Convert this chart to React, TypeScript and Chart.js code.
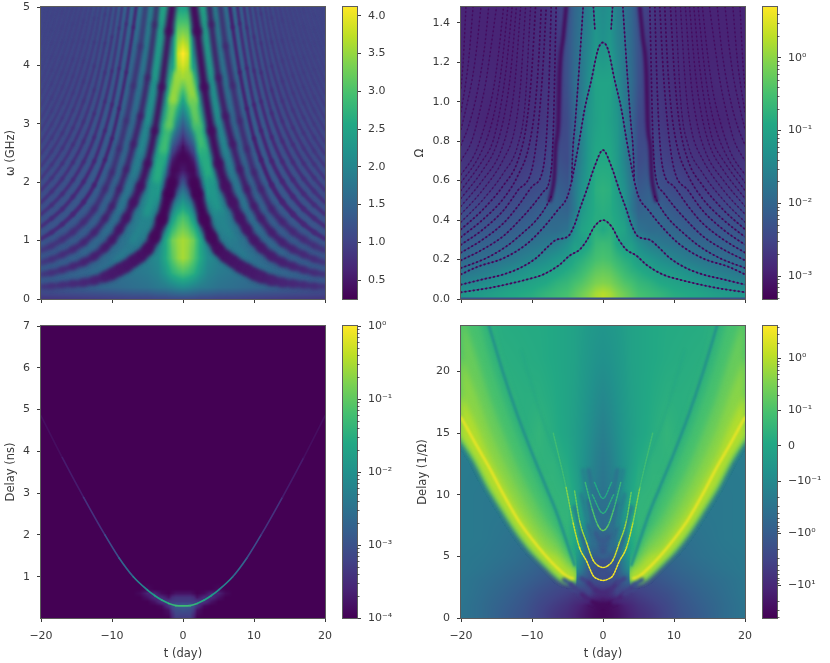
import React, { useEffect, useRef } from 'react';
import { Chart, registerables } from 'chart.js';

// ---------- shared tick data ----------
const T_TICKS = [-20, -10, 0, 10, 20];
const T_LABELS = ['\u221220', '\u221210', '0', '10', '20'];
const P1_Y_TICKS = [0, 1, 2, 3, 4, 5];
const P2_Y_TICKS = [0, 0.2, 0.4, 0.6, 0.8, 1.0, 1.2, 1.4];
const P2_Y_LABELS = ['0.0', '0.2', '0.4', '0.6', '0.8', '1.0', '1.2', '1.4'];
const P3_Y_TICKS = [1, 2, 3, 4, 5, 6, 7];
const P4_Y_TICKS = [0, 5, 10, 15, 20];
const CB1_TICKS = [0.5, 1, 1.5, 2, 2.5, 3, 3.5, 4];
const CB1_LABELS = ['0.5', '1.0', '1.5', '2.0', '2.5', '3.0', '3.5', '4.0'];
const CB2_TICKS = [1e-3, 1e-2, 1e-1, 1];
const CB2_LABELS = ['10\u207B\u00B3', '10\u207B\u00B2', '10\u207B\u00B9', '10\u2070'];
const CB2_MINOR = [5e-4, 6e-4, 7e-4, 8e-4, 9e-4, 2e-3, 3e-3, 4e-3, 5e-3, 6e-3, 7e-3, 8e-3, 9e-3, 2e-2, 3e-2, 4e-2, 5e-2, 6e-2, 7e-2, 8e-2, 9e-2, 0.2, 0.3, 0.4, 0.5, 0.6, 0.7, 0.8, 0.9, 2, 3, 4];
const CB3_TICKS = [1e-4, 1e-3, 1e-2, 1e-1, 1];
const CB3_LABELS = ['10\u207B\u2074', '10\u207B\u00B3', '10\u207B\u00B2', '10\u207B\u00B9', '10\u2070'];
const CB3_MINOR = [2e-4, 3e-4, 4e-4, 5e-4, 6e-4, 7e-4, 8e-4, 9e-4, 2e-3, 3e-3, 4e-3, 5e-3, 6e-3, 7e-3, 8e-3, 9e-3, 2e-2, 3e-2, 4e-2, 5e-2, 6e-2, 7e-2, 8e-2, 9e-2, 0.2, 0.3, 0.4, 0.5, 0.6, 0.7, 0.8, 0.9];
const CB4_TICKS = [-2.68, -1.68, -0.68, 0, 0.68, 1.68];
const CB4_LABELS = ['\u221210\u00B9', '\u221210\u2070', '\u221210\u207B\u00B9', '0', '10\u207B\u00B9', '10\u2070'];
const CB4_MINOR = [0.98, 1.16, 1.28, 1.38, 1.46, 1.53, 1.58, 1.63, 1.98, 2.16, 2.28, -0.98, -1.16, -1.28, -1.38, -1.46, -1.53, -1.58, -1.63, -1.98, -2.16, -2.28, -2.38, -2.46, -2.53, -2.58, -2.63, -2.98, -3.16, -3.28];

// ---------- panel 1: |spectrum| (crest levels and dark fringes, left half; the picture is mirror-symmetric) ----------
const P1_COLS = [-20, -14, -10, -7, -5, -3.5, -2.5, -1.5, -0.7, 0];
const P1_ROWS = [5, 4.6, 4.2, 3.8, 3.4, 3, 2.6, 2.2, 1.8, 1.4, 1, 0.7, 0.45, 0.2, 0];
const P1_CREST = [
  [1.08, 1.12, 1.3, 1.55, 1.9, 2.2, 2.55, 2.6, 2.5, 2.4],
  [1.08, 1.12, 1.3, 1.55, 1.9, 2.2, 2.5, 2.3, 3.2, 3.3],
  [1.08, 1.14, 1.3, 1.55, 1.9, 2.2, 2.4, 2.2, 3.8, 4.15],
  [1.08, 1.14, 1.32, 1.6, 1.9, 2.2, 2.3, 2.6, 3.5, 3.6],
  [1.08, 1.16, 1.35, 1.6, 1.9, 2.2, 2.3, 3.3, 2.9, 2.5],
  [1.1, 1.2, 1.4, 1.6, 1.9, 2.2, 2.5, 2.4, 1.9, 1.4],
  [1.1, 1.2, 1.4, 1.65, 1.9, 2.3, 2.8, 1.3, 0.8, 0.4],
  [1.15, 1.25, 1.45, 1.7, 2.0, 2.5, 2.0, 0.5, 0.5, 0.6],
  [1.15, 1.3, 1.5, 1.75, 2.0, 2.3, 1.5, 1.4, 1.6, 1.9],
  [1.2, 1.35, 1.55, 1.8, 2.0, 1.9, 1.7, 2.3, 2.8, 3.0],
  [1.25, 1.4, 1.6, 1.8, 1.9, 1.9, 2.5, 3.25, 3.5, 3.6],
  [1.3, 1.45, 1.65, 1.75, 1.9, 2.1, 2.55, 3.1, 3.45, 3.6],
  [1.35, 1.5, 1.6, 1.75, 1.85, 2.0, 2.3, 2.7, 2.9, 3.0],
  [1.3, 1.45, 1.55, 1.65, 1.7, 1.8, 1.85, 1.95, 2.05, 2.1],
  [0.85, 0.9, 0.95, 1, 1, 1.05, 1.05, 1.1, 1.1, 1.1],
];
const P1_TROUGH_ROWS = [5, 3.5, 2, 1, 0.4, 0];
const P1_TROUGH = [
  [0.98, 0.9, 0.75, 0.6, 0.5, 0.42, 0.38, 0.34, 0.32, 0.32],
  [0.92, 0.78, 0.62, 0.52, 0.42, 0.38, 0.34, 0.3, 0.3, 0.3],
  [0.82, 0.65, 0.52, 0.45, 0.38, 0.32, 0.3, 0.28, 0.28, 0.28],
  [0.72, 0.58, 0.48, 0.42, 0.36, 0.32, 0.3, 0.3, 0.3, 0.3],
  [0.68, 0.58, 0.52, 0.48, 0.5, 0.55, 0.6, 0.7, 0.8, 0.9],
  [0.75, 0.75, 0.8, 0.9, 1, 1, 1, 1, 1, 1],
];
const P1_ARC_T = [-20, -18.5, -17, -15.5, -14, -12.5, -11, -10, -9, -8, -7, -6, -5, -4, -3, -2, -1.5];
const P1_DARK_ARCS = [
  [0.21, 0.22, 0.24, 0.26, 0.28, 0.32, 0.38, 0.43, 0.5, 0.56, 0.65, 0.73, 0.85, 1.06, 1.36, 1.8, 2.0],
  [0.42, 0.45, 0.5, 0.56, 0.63, 0.73, 0.88, 1.01, 1.19, 1.39, 1.65, 1.93, 2.32, 2.88, 3.63, 4.58, 5.03],
  [0.62, 0.68, 0.76, 0.85, 0.97, 1.14, 1.38, 1.59, 1.88, 2.22, 2.65, 3.13, 3.79, 4.7, 5.9],
  [0.83, 0.91, 1.02, 1.15, 1.32, 1.54, 1.88, 2.17, 2.57, 3.05, 3.65, 4.33, 5.26],
  [1.03, 1.14, 1.28, 1.45, 1.66, 1.95, 2.38, 2.75, 3.26, 3.88, 4.65, 5.53],
  [1.24, 1.38, 1.54, 1.75, 2.01, 2.36, 2.88, 3.33, 3.95, 4.71, 5.65],
  [1.45, 1.61, 1.8, 2.04, 2.35, 2.77, 3.38, 3.91, 4.64, 5.54],
  [1.65, 1.84, 2.06, 2.34, 2.7, 3.18, 3.88, 4.49, 5.33],
  [1.86, 2.07, 2.32, 2.64, 3.04, 3.58, 4.38, 5.07],
  [2.06, 2.3, 2.58, 2.93, 3.39, 3.99, 4.88, 5.65],
  [2.27, 2.53, 2.84, 3.23, 3.73, 4.4, 5.38],
  [2.48, 2.76, 3.1, 3.53, 4.08, 4.81, 5.88],
  [2.68, 2.99, 3.36, 3.82, 4.42, 5.22],
  [2.89, 3.22, 3.62, 4.12, 4.77, 5.62],
  [3.09, 3.45, 3.88, 4.42, 5.11],
  [3.3, 3.69, 4.14, 4.72, 5.46],
  [3.51, 3.92, 4.4, 5.01],
  [3.71, 4.15, 4.66, 5.31],
  [3.92, 4.38, 4.92, 5.61],
  [4.12, 4.61, 5.18],
  [4.33, 4.84, 5.44],
  [4.54, 5.07],
  [4.74, 5.3],
  [4.95, 5.53],
];
const P1_DARK_CROWN = [[-1.7, 1.95], [-1.2, 2.2], [-0.7, 2.38], [0, 2.48]];
const P1_BRIGHT_ARM_1 = [[-12.6, 0.39, 1.6], [-9.3, 0.67, 1.75], [-7, 1.0, 1.9], [-5.1, 1.47, 2.1], [-3.7, 2.05, 2.5], [-2.8, 2.55, 2.8], [-2, 2.96, 3.05], [-1.4, 3.4, 3.4], [-0.8, 3.85, 3.7]];
const P1_BRIGHT_ARM_2 = [[-14, 0.8, 1.5], [-11, 1.13, 1.6], [-9, 1.53, 1.7], [-7, 2.15, 1.85], [-6, 2.53, 2], [-5, 3.05, 2.15], [-4, 3.79, 2.35], [-3, 4.76, 2.5], [-2.8, 5.1, 2.55]];

// ---------- panel 2: log10 of the amplitude and the dark nodal lines ----------
const P2_COLS = [-20, -16, -13, -10, -8, -6.5, -5, -4, -3, -2, -1, 0];
const P2_ROWS = [1.48, 1.3, 1.1, 0.9, 0.7, 0.55, 0.45, 0.35, 0.28, 0.2, 0.14, 0.08, 0.03, 0];
const P2_LOG = [
  [-2.9, -2.9, -2.9, -2.85, -2.75, -2.6, -2.4, -2.0, -1.8, -1.6, -1.3, -1.4],
  [-2.9, -2.9, -2.9, -2.8, -2.75, -2.7, -2.3, -1.95, -1.7, -1.5, -1.2, -1.3],
  [-2.85, -2.85, -2.9, -2.8, -2.7, -2.7, -2.3, -1.9, -1.7, -1.35, -1.0, -1.0],
  [-2.8, -2.9, -2.85, -2.75, -2.65, -2.6, -2.4, -2.0, -1.6, -1.2, -1.05, -0.95],
  [-2.7, -2.75, -2.7, -2.6, -2.5, -2.3, -2.4, -1.9, -1.5, -1.15, -0.9, -0.9],
  [-2.6, -2.6, -2.55, -2.4, -2.3, -2.1, -2.2, -1.7, -1.3, -1.1, -0.8, -0.75],
  [-2.4, -2.4, -2.35, -2.2, -2.05, -2, -2.05, -1.7, -1.2, -1, -0.85, -0.8],
  [-2.3, -2.2, -2.15, -2.0, -1.9, -1.9, -1.8, -1.35, -1.0, -0.9, -0.8, -0.9],
  [-2.15, -2.05, -1.95, -1.8, -1.7, -1.6, -1.35, -1.1, -1.1, -0.95, -0.65, -0.6],
  [-1.95, -1.85, -1.7, -1.5, -1.35, -1.2, -1.1, -0.9, -0.8, -0.65, -0.5, -0.45],
  [-1.8, -1.6, -1.4, -1.2, -1.1, -1.0, -0.85, -0.75, -0.6, -0.45, -0.3, -0.25],
  [-1.5, -1.35, -1.15, -1.0, -0.9, -0.75, -0.65, -0.5, -0.4, -0.25, -0.1, -0.05],
  [-1.25, -1.1, -0.95, -0.85, -0.7, -0.6, -0.5, -0.35, -0.2, -0.05, 0.15, 0.25],
  [-1.2, -1.05, -0.9, -0.8, -0.65, -0.55, -0.45, -0.3, -0.15, 0, 0.2, 0.3],
];
const P2_BOTTOM_EDGE = [[-20, 0], [0, 0], [20, 0]];
const P2_NODE_A = [[-20, 0.034], [-16, 0.056], [-13.1, 0.078], [-10.8, 0.098], [-8.45, 0.124], [-6.1, 0.174], [-4.7, 0.22], [-3.3, 0.25], [-2.35, 0.293], [-1.17, 0.369], [0, 0.4]];
const P2_NODE_B = [[-20, 0.073], [-16.9, 0.1], [-14.1, 0.124], [-11.7, 0.157], [-9.4, 0.208], [-7.7, 0.267], [-6.6, 0.3], [-4.9, 0.318], [-4, 0.377], [-3.3, 0.453], [-2.35, 0.547], [-1.17, 0.673], [0, 0.755]];
const P2_NODE_C = [[-20, 0.125], [-17.7, 0.163], [-14, 0.207], [-10.7, 0.28], [-8.3, 0.366], [-6.4, 0.45], [-5, 0.52], [-4.4, 0.6], [-4, 0.673], [-3.3, 0.81], [-2.6, 0.96], [-1.64, 1.11], [-0.7, 1.265], [0, 1.3]];
const P2_BRANCHES = [
  [[-4.4, 0.6], [-4.3, 0.72], [-3.9, 0.9], [-3.4, 1.15], [-2.8, 1.48]],
  [[-1.35, 1.48], [-1.15, 1.37]],
  [[-20, 0.157], [-16.4, 0.208], [-13.6, 0.267], [-11.3, 0.335], [-9.4, 0.4], [-8, 0.47], [-7.3, 0.52]],
  [[-20, 0.196], [-17, 0.25], [-14, 0.32], [-12, 0.39], [-10, 0.47], [-8.5, 0.54], [-7.3, 0.65], [-7, 0.85], [-6.8, 1.15], [-6.6, 1.48]],
  [[-20, 0.235], [-17, 0.3], [-14, 0.385], [-12, 0.47], [-10, 0.57], [-8.5, 0.65], [-8, 0.8], [-7.6, 1.1], [-7.3, 1.48]],
  [[-20, 0.275], [-17, 0.35], [-14, 0.45], [-12, 0.55], [-10, 0.66], [-9.2, 0.85], [-8.5, 1.15], [-8, 1.48]],
  [[-20, 0.314], [-17, 0.4], [-14, 0.51], [-12, 0.625], [-10.4, 0.78], [-9.5, 1.0], [-9, 1.25], [-8.7, 1.48]],
  [[-20, 0.353], [-17, 0.45], [-14, 0.577], [-12, 0.7], [-10.8, 0.88], [-10.1, 1.12], [-9.5, 1.48]],
];
const P2_FAINT_ARCS = [
  [[-20, 0.39], [-17, 0.5], [-14, 0.64], [-12, 0.78], [-11, 0.98], [-10.2, 1.48]],
  [[-20, 0.43], [-17, 0.55], [-14, 0.71], [-12.5, 0.85], [-11.7, 1.05], [-10.9, 1.48]],
  [[-20, 0.47], [-17, 0.6], [-14.5, 0.74], [-13.2, 0.9], [-12.4, 1.1], [-11.6, 1.48]],
  [[-20, 0.51], [-17, 0.65], [-15, 0.78], [-13.8, 0.95], [-13, 1.15], [-12.2, 1.48]],
  [[-20, 0.55], [-17, 0.7], [-15.5, 0.8], [-14.4, 0.98], [-13.6, 1.18], [-12.8, 1.48]],
  [[-20, 0.59], [-17.5, 0.72], [-16, 0.85], [-15, 1.0], [-14.2, 1.2], [-13.4, 1.48]],
  [[-20, 0.63], [-18, 0.74], [-16.5, 0.9], [-15.5, 1.05], [-14.8, 1.22], [-14, 1.48]],
  [[-20, 0.7], [-18.5, 0.8], [-17.5, 0.93], [-16.5, 1.1], [-15.8, 1.27], [-15, 1.48]],
  [[-20, 0.78], [-19, 0.87], [-18, 1.0], [-17.2, 1.15], [-16.6, 1.3], [-16.1, 1.48]],
  [[-20, 0.86], [-19.2, 0.98], [-18.4, 1.12], [-17.8, 1.27], [-17.2, 1.48]],
  [[-20, 0.95], [-19.4, 1.08], [-18.9, 1.22], [-18.3, 1.48]],
  [[-20, 1.07], [-19.7, 1.2], [-19.3, 1.48]],
];
const P2_STREAK = [[-7.5, 0.5], [-7.1, 0.56], [-6.85, 0.63], [-6.7, 0.76], [-6.3, 0.89], [-6.1, 1.15], [-5.6, 1.33], [-5.2, 1.48]];

// ---------- panel 3: log10 of the delay-time power ----------
const P3_COLS = [-7, -6, -5, -4, -3, -2, -1.5, -1, 0];
const P3_ROWS = [0.85, 0.7, 0.6, 0.5, 0.4, 0.3, 0.2, 0.1, 0.012];
const P3_LOG = [
  [-4, -4, -4, -4, -4, -4, -4, -4, -4],
  [-4, -4, -3.9, -4, -4, -4, -4, -4, -4],
  [-4, -3.9, -3.6, -3.6, -3.9, -4, -3.9, -3.8, -3.8],
  [-4, -4, -3.8, -3.5, -3.5, -3.8, -3.5, -3.4, -3.4],
  [-4, -4, -4, -3.8, -3.4, -3.3, -3.3, -3.3, -3.3],
  [-4, -4, -4, -4, -3.9, -3.4, -3.1, -2.9, -2.8],
  [-4, -4, -4, -4, -4, -3.8, -3.3, -3.1, -3.0],
  [-4, -4, -4, -4, -4, -3.9, -3.5, -3.2, -3.2],
  [-4, -4, -4, -4, -4, -4, -3.6, -3.3, -3.3],
];
const P3_RIDGE = [[-20, 4.85, -3.9], [-17, 3.85, -3.8], [-14, 2.9, -3.6], [-11, 2.0, -3.25], [-9, 1.45, -2.9], [-7, 1.0, -2.5], [-5, 0.68, -2.0], [-4, 0.55, -1.8], [-3, 0.44, -1.6], [-2, 0.36, -1.45], [-1, 0.31, -1.3], [0, 0.3, -1.25]];

// ---------- panel 4: symlog level (in decades along the colour bar) ----------
const P4_COLS = [-20, -17, -14, -11, -9, -7, -5, -4, -3, -2, -1, 0];
const P4_ROWS = [23.7, 21, 18, 15, 12.5, 10, 8, 6.5, 5, 4, 3, 2, 1, 0.3];
const P4_LEVEL = [
  [0.35, 0.3, 0.15, 0.12, 0.1, 0.05, -0.05, -0.1, -0.2, -0.3, -0.35, -0.4],
  [0.35, 0.3, 0.2, 0.15, 0.12, 0.05, -0.05, -0.1, -0.25, -0.35, -0.45, -0.5],
  [0.35, 0.3, 0.25, 0.2, 0.2, 0.1, -0.05, -0.15, -0.3, -0.45, -0.6, -0.7],
  [-1.0, 0.3, 0.3, 0.2, 0.35, 0.15, -0.05, -0.2, -0.35, -0.55, -0.75, -0.9],
  [-1.0, -1.0, 0.5, 0.4, 0.3, 0.3, 0.1, -0.15, -0.4, -0.65, -0.9, -1.05],
  [-1.0, -1.05, -1.05, 0.4, 0.35, 0.35, 0.3, 0.0, -0.35, -0.7, -1.0, -1.2],
  [-1.0, -1.05, -1.1, -1.15, 0.4, 0.4, 0.35, 0.1, -0.25, -0.8, -1.1, -1.3],
  [-1.0, -1.05, -1.15, -1.25, 0.3, 0.4, 0.3, 0.1, -0.4, -0.9, -1.3, -1.6],
  [-1.05, -1.1, -1.2, -1.35, -1.45, 0.3, 0.3, -0.1, -0.7, -1.3, -1.7, -1.9],
  [-1.05, -1.15, -1.3, -1.45, -1.6, -1.7, 0.2, -0.3, -1.0, -1.7, -2, -2],
  [-1.1, -1.25, -1.4, -1.6, -1.75, -1.9, -2.0, -1.4, -1.6, -1.9, -2, -2],
  [-1.1, -1.3, -1.5, -1.75, -1.95, -2.1, -2.25, -2.35, -2.3, -2.2, -2.5, -2.6],
  [-1.15, -1.35, -1.6, -1.85, -2.1, -2.3, -2.5, -2.65, -2.8, -3.0, -3.1, -3.2],
  [-1.15, -1.35, -1.65, -1.9, -2.15, -2.4, -2.6, -2.75, -2.9, -3.05, -3.15, -3.2],
];
const P4_BAND_T = [-20, -18, -16, -14, -12, -10, -8, -6.5, -5, -4, -3.75];
const P4_BAND_EDGE = [14.8, 13, 10.8, 8.9, 7.1, 5.6, 4.4, 3.55, 3.0, 3.05, 3.3];
const P4_BAND_U0 = [33, 28.5, 23.7, 19.8, 16.4, 13.4, 10.6, 8.5, 6.0, 4.3, 3.4];
const P4_BAND_U1 = [29.4, 25.4, 21.1, 17.6, 14.5, 11.8, 9.4, 7.5, 5.6, 4.2, 3.4];
const P4_BAND_U2 = [24.8, 21.5, 17.9, 14.9, 12.2, 9.9, 7.8, 6.6, 5.0, 4.1, 3.4];
const P4_BAND_U3 = [21.2, 18.4, 15.3, 12.7, 10.4, 8.3, 6.6, 5.7, 4.5, 3.9, 3.38];
const P4_BAND_U4 = [18.1, 15.8, 13.1, 10.9, 8.8, 7.0, 5.5, 5.0, 4.0, 3.6, 3.36];
const P4_BAND_LEVELS = [0.35, 0.65, 1.0, 1.3, 1.65];
const P4_RIDGE = [[-20, 16.3], [-18, 14.2], [-16, 12.2], [-14, 10.0], [-12, 8.0], [-10, 6.4], [-8, 5.0], [-6.5, 4.1], [-5, 3.35], [-4.2, 3.2]];
const P4_DARK_ARC = [[-16.2, 24], [-14, 19.8], [-12, 16.4], [-10, 13.4], [-8, 10.6], [-6.5, 8.5], [-5, 6.0], [-4, 4.3]];
const P4_THIN_ARC = [[-11.5, 21.7], [-8.45, 16], [-5.2, 10.9], [-4.2, 8.6]];
const P4_BLUE_BANDS = [
  [[-5.5, 3.1, -1.6], [-4.5, 2.7, -2.0], [-3, 1.9, -2.5], [-1.5, 1.3, -3.0], [0, 1.0, -3.3]],
  [[-3, 3.2, -2.0], [-2, 2.85, -2.4], [-1, 2.25, -2.6], [0, 2.0, -2.7]],
  [[-4, 9, -0.6], [-3, 6.8, -1.1], [-2, 5, -1.6], [-1, 3.9, -1.9], [0, 3.6, -2.0]],
  [[-3, 10, -0.6], [-2, 7.5, -1.1], [-1, 5.5, -1.5], [0, 5.0, -1.6]],
  [[-2.8, 12, -0.6], [-2, 9.5, -1.0], [-1, 6.9, -1.6], [0, 6.2, -1.8]],
  [[-2, 12, -1.0], [-1, 9, -1.3], [0, 8, -1.4]],
  [[-1, 10.3, -1.2], [0, 9.1, -1.3]],
];
const P4_THIN_V = [
  [[-7, 15, 0.2], [-5.2, 10.6, 0.9], [-4.2, 7.7, 1.6], [-3.3, 5.7, 2.1], [-2.3, 4.6, 2.25], [-1.4, 3.45, 2.25], [-0.7, 3.15, 2.25], [0, 3.05, 2.25]],
  [[-4, 10.3, 0.8], [-3.3, 7.9, 1.2], [-2.3, 6.1, 1.8], [-1.4, 4.7, 2.1], [-0.7, 4.25, 2.2], [0, 4.1, 2.2]],
  [[-2.5, 11, 0.3], [-1.5, 8.8, 0.6], [-0.7, 7.5, 0.9], [0, 7.1, 1.0]],
  [[-1.5, 10, 0.1], [0, 8.5, 0.3]],
  [[-1.2, 11, 0], [0, 9.7, 0.2]],
];

// ---------- colour ----------
const VIRIDIS = [[68, 1, 84], [72, 36, 117], [65, 68, 135], [53, 95, 141], [42, 120, 142], [33, 145, 140], [34, 168, 132], [68, 191, 112], [122, 209, 81], [189, 223, 38], [253, 231, 37]];
const viridis = (n: number, a = 1) => {
  const f = Math.min(0.9999, Math.max(0, n)) * 10;
  const i = Math.floor(f);
  const w = f - i;
  const c = VIRIDIS[i].map((v, j) => Math.round(v + (VIRIDIS[i + 1][j] - v) * w));
  return a === 1 ? `rgb(${c[0]},${c[1]},${c[2]})` : `rgba(${c[0]},${c[1]},${c[2]},${a})`;
};
const c1 = (v: number, a = 1) => viridis((v - 0.25) / 3.865, a);
const c2 = (v: number, a = 1) => viridis((v + 3.315) / 4.015, a);
const c3 = (v: number, a = 1) => viridis((v + 4) / 4, a);
const c4 = (v: number, a = 1) => viridis((v + 3.308) / 5.615, a);

// ---------- helpers ----------
const bracket = (list: number[], v: number, descending: boolean) => {
  const n = list.length;
  for (let i = 0; i < n - 1; i++) {
    const a = list[i], b = list[i + 1];
    if (descending ? v >= b : v <= b) {
      const w = (v - a) / (b - a);
      return [i, Math.max(0, Math.min(1, w))];
    }
  }
  return [n - 2, 1];
};
const sample = (cols: number[], rows: number[], grid: number[][], t: number, v: number) => {
  const [i, u] = bracket(cols, -Math.abs(t), false);
  const [j, w] = bracket(rows, v, true);
  const top = grid[j][i] * (1 - u) + grid[j][i + 1] * u;
  const bot = grid[j + 1][i] * (1 - u) + grid[j + 1][i + 1] * u;
  return top * (1 - w) + bot * w;
};
const heat = (cols: number[], rows: number[], grid: number[][], color: (v: number) => string) => ({
  id: 'heat',
  beforeDatasetsDraw(chart: any) {
    const { ctx, chartArea: a, scales } = chart;
    for (let px = Math.floor(a.left); px < a.right; px++) {
      const t = scales.x.getValueForPixel(px + 0.5);
      for (let py = Math.floor(a.top); py < a.bottom; py++) {
        ctx.fillStyle = color(sample(cols, rows, grid, t, scales.y.getValueForPixel(py + 0.5)));
        ctx.fillRect(px, py, 1, 1);
      }
    }
  },
});
const frame = {
  id: 'frame',
  afterDraw(chart: any) {
    const { ctx, chartArea: a } = chart;
    ctx.save();
    ctx.strokeStyle = '#5c5c5c';
    ctx.lineWidth = 1;
    ctx.strokeRect(a.left - 0.5, a.top - 0.5, a.right - a.left + 1, a.bottom - a.top + 1);
    ctx.restore();
  },
};
const lineBlur = {
  id: 'lineBlur',
  beforeDatasetDraw(chart: any, args: any) {
    const b = chart.data.datasets[args.index]?.blurPx;
    if (b) chart.ctx.filter = `blur(${b}px)`;
  },
  afterDatasetDraw(chart: any) {
    chart.ctx.filter = 'none';
  },
};
Chart.register(lineBlur, ...registerables);

const toPts = (rows: number[][]) => rows.map((r) => ({ x: r[0], y: r[1], v: r[2] }));
const mirror = (pts: any[]) => pts.map((p) => ({ ...p, x: -p.x })).sort((a, b) => a.x - b.x);
const asc = (pts: any[]) => [...pts].sort((a, b) => a.x - b.x);
const both = (pts: any[]) => {
  const left = asc(pts);
  const right = mirror(left.filter((p) => p.x !== 0));
  return [...left, ...right];
};
const line = (pts: any[], o: any) => ({
  type: 'line',
  data: pts,
  pointRadius: 0,
  fill: false,
  clip: 0,
  cubicInterpolationMode: 'monotone',
  borderCapStyle: 'round',
  borderJoinStyle: 'round',
  borderWidth: 1,
  ...o,
});
const byV = (color: (v: number) => string) => ({
  borderColor: (c: any) => {
    const d = c.chart.data.datasets[c.datasetIndex].data;
    return color((d[c.p0DataIndex].v + d[c.p1DataIndex].v) / 2);
  },
});
const sides = (pts: any[], o: any) => [line(asc(pts), o), line(mirror(pts), o)];

// ---------- dataset layers (bottom first) ----------
const p1Layers = () => {
  const out: any[] = [];
  [P1_BRIGHT_ARM_2, P1_BRIGHT_ARM_1].forEach((arm, i) => {
    out.push(...sides(toPts(arm), { borderWidth: i ? 7 : 5, blurPx: 2.5, segment: byV((v) => c1(v)) }));
  });
  const gapAt = (t: number) => {
    const a = Math.abs(t);
    let best = 0;
    P1_ARC_T.forEach((x, i) => {
      if (Math.abs(-x - a) < Math.abs(-P1_ARC_T[best] - a)) best = i;
    });
    return P1_DARK_ARCS[1][best] - P1_DARK_ARCS[0][best];
  };
  const seg = {
    borderColor: (c: any) => {
      const d = c.chart.data.datasets[c.datasetIndex].data[c.p0DataIndex];
      return c1(sample(P1_COLS, P1_TROUGH_ROWS, P1_TROUGH, d.x, d.y));
    },
    borderWidth: (c: any) => {
      const d = c.chart.data.datasets[c.datasetIndex].data[c.p0DataIndex];
      const dx = Math.abs(c.p1.x - c.p0.x) || 0.1;
      const dy = Math.abs(c.p1.y - c.p0.y);
      const gapPx = gapAt(d.x) * 58.4;
      return Math.max(1.4, Math.min(11, (0.38 * gapPx) / Math.sqrt(1 + (dy / dx) ** 2)));
    },
  };
  P1_DARK_ARCS.forEach((arc, k) => {
    const pts = arc.map((y, i) => ({ x: P1_ARC_T[i], y }));
    out.push(...sides(pts, { blurPx: k < 4 ? 2.2 : 1.2, segment: seg }));
  });
  out.push(line(both(toPts(P1_DARK_CROWN)), { borderColor: c1(0.3), borderWidth: 9, blurPx: 3 }));
  return out;
};

const p2Layers = () => {
  const out: any[] = [];
  const dotted = (pts: any[], col: string, under: string, w: number) => [
    line(pts, { borderColor: under, borderWidth: w * 0.7, blurPx: 0.6 }),
    line(pts, { borderColor: col, borderWidth: w, borderDash: [0.6, 3.6], blurPx: 0.4 }),
  ];
  P2_FAINT_ARCS.forEach((arc) => {
    const pts = toPts(arc);
    out.push(...dotted(asc(pts), c2(-3.3, 0.7), c2(-3.0, 0.45), 1.5));
    out.push(...dotted(mirror(pts), c2(-3.3, 0.7), c2(-3.0, 0.45), 1.5));
  });
  P2_BRANCHES.forEach((arc) => {
    const pts = toPts(arc);
    out.push(...dotted(asc(pts), c2(-3.25), c2(-2.8, 0.6), 1.8));
    out.push(...dotted(mirror(pts), c2(-3.25), c2(-2.8, 0.6), 1.8));
  });
  out.push(...sides(toPts(P2_STREAK), { borderColor: c2(-3.25), borderWidth: 3.6, blurPx: 1.4 }));
  [P2_NODE_C, P2_NODE_B, P2_NODE_A].forEach((arc) => {
    out.push(...dotted(both(toPts(arc)), c2(-3.25), c2(-2.5, 0.7), 1.9));
  });
  out.push(line(toPts(P2_BOTTOM_EDGE), { borderColor: c2(-2.3), borderWidth: 3, blurPx: 0.3, cubicInterpolationMode: 'default' }));
  return out;
};

const p3Layers = () => [
  line(both(toPts(P3_RIDGE)), { borderWidth: 1.7, blurPx: 0.5, segment: byV((v) => c3(v)) }),
];

const p4Layers = () => {
  const out: any[] = [];
  const edge = P4_BAND_T.map((x, i) => ({ x, y: P4_BAND_EDGE[i] }));
  [P4_BAND_U0, P4_BAND_U1, P4_BAND_U2, P4_BAND_U3, P4_BAND_U4].forEach((u, j) => {
    const upper = P4_BAND_T.map((x, i) => ({ x, y: u[i] }));
    const fillOpt = { borderWidth: 0, backgroundColor: c4(P4_BAND_LEVELS[j]), fill: '+1', blurPx: 3 };
    const noFill = { borderWidth: 0, blurPx: 3 };
    out.push(line(asc(edge), noFill), line(asc(upper), fillOpt));
    out.push(line(mirror(edge), noFill), line(mirror(upper), fillOpt));
  });
  out.push(...sides(toPts(P4_DARK_ARC), { borderColor: c4(-0.55), borderWidth: 2.6, blurPx: 1.2 }));
  out.push(...sides(toPts(P4_THIN_ARC), { borderColor: c4(-0.1, 0.4), borderWidth: 2, blurPx: 0.8 }));
  out.push(...sides(toPts(P4_RIDGE), { borderColor: c4(2.25), borderWidth: 2, blurPx: 1 }));
  P4_BLUE_BANDS.forEach((b) => {
    out.push(line(both(toPts(b)), { borderWidth: 4.5, blurPx: 1.4, segment: byV((v) => c4(v)) }));
  });
  P4_THIN_V.forEach((b) => {
    out.push(line(both(toPts(b)), { borderWidth: 1.5, borderDash: [1.6, 1.4], blurPx: 0.3, segment: byV((v) => c4(v)) }));
  });
  return out;
};

// ---------- charts ----------
const FONT = { family: '"DejaVu Sans"', size: 11 };
const TEXT = '#3a3a3a';
const W = 830;
const H = 663;
const fixBox = (prop: string, size: number) => (s: any) => {
  s[prop] = size;
  s.paddingLeft = s.paddingRight = s.paddingTop = s.paddingBottom = 0;
};
const tickSet = (values: number[]) => (s: any) => {
  s.ticks = values.map((value) => ({ value }));
};
const tickGrid = { display: true, drawOnChartArea: false, drawTicks: true, tickLength: 4, tickColor: '#3a3a3a', tickWidth: 1 };

const panel = (canvas: HTMLCanvasElement, c: any) =>
  new Chart(canvas, {
    type: 'line',
    data: { datasets: c.layers.reverse() },
    plugins: [c.heat, frame],
    options: {
      responsive: false,
      devicePixelRatio: 1,
      animation: false,
      events: [],
      layout: { padding: { left: c.L - c.yw, right: W - c.R, top: c.T, bottom: H - c.B - c.xh } },
      plugins: { legend: { display: false }, tooltip: { enabled: false } },
      scales: {
        x: {
          type: 'linear',
          min: -20,
          max: 20,
          afterFit: fixBox('height', c.xh),
          afterBuildTicks: tickSet(T_TICKS),
          border: { display: false },
          grid: tickGrid,
          ticks: { display: c.xLabels, autoSkip: false, maxRotation: 0, padding: 8, color: TEXT, font: FONT, callback: (_: any, i: number) => T_LABELS[i] },
          title: { display: c.xLabels, text: 't (day)', color: TEXT, font: { ...FONT, size: 11.5 }, padding: { top: 2, bottom: 2 } },
        },
        y: {
          type: 'linear',
          min: c.ymin,
          max: c.ymax,
          afterFit: fixBox('width', c.yw),
          afterBuildTicks: tickSet(c.yTicks),
          border: { display: false },
          grid: tickGrid,
          ticks: { autoSkip: false, padding: 7, color: TEXT, font: FONT, callback: (_: any, i: number) => c.yLabels[i] },
          title: { display: true, text: c.yTitle, color: TEXT, font: { ...FONT, size: 11.5 }, padding: { top: c.titlePad, bottom: 0 } },
        },
      },
    } as any,
  } as any);

const colorbar = (canvas: HTMLCanvasElement, c: any) => {
  const minorTicks = {
    id: 'minorTicks',
    afterDraw(chart: any) {
      const { ctx, chartArea: a, scales } = chart;
      ctx.save();
      ctx.strokeStyle = '#3a3a3a';
      ctx.lineWidth = 0.8;
      (c.minor || []).forEach((v: number) => {
        const y = Math.round(scales.y.getPixelForValue(v)) + 0.5;
        ctx.beginPath();
        ctx.moveTo(a.right, y);
        ctx.lineTo(a.right + 2.5, y);
        ctx.stroke();
      });
      ctx.restore();
    },
  };
  return new Chart(canvas, {
    type: 'bar',
    data: {
      labels: ['colour'],
      datasets: [
        {
          data: [[c.min, c.max]],
          barPercentage: 1,
          categoryPercentage: 1,
          borderWidth: 0,
          backgroundColor: (ctx: any) => {
            const a = ctx.chart.chartArea;
            if (!a) return '#000';
            const g = ctx.chart.ctx.createLinearGradient(0, a.bottom, 0, a.top);
            VIRIDIS.forEach((v, i) => g.addColorStop(i / 10, `rgb(${v[0]},${v[1]},${v[2]})`));
            return g;
          },
        },
      ],
    },
    plugins: [frame, minorTicks],
    options: {
      responsive: false,
      devicePixelRatio: 1,
      animation: false,
      events: [],
      layout: { padding: { left: c.L, right: W - c.R - 50, top: c.T, bottom: H - c.B } },
      plugins: { legend: { display: false }, tooltip: { enabled: false } },
      scales: {
        x: { display: false },
        y: {
          type: c.type,
          position: 'right',
          min: c.min,
          max: c.max,
          afterFit: fixBox('width', 50),
          afterBuildTicks: tickSet(c.ticks),
          border: { display: false },
          grid: tickGrid,
          ticks: { autoSkip: false, padding: 7, color: TEXT, font: FONT, callback: (_: any, i: number) => c.labels[i] },
        },
      },
    } as any,
  } as any);
};

export default function App() {
  const refs = useRef<(HTMLCanvasElement | null)[]>([]);
  useEffect(() => {
    const [a, b, cc, d, e, f, g, h] = refs.current as HTMLCanvasElement[];
    const charts = [
      panel(a, { L: 41, R: 325, T: 7, B: 299, yw: 41, xh: 10, xLabels: false, ymin: 0, ymax: 5, yTicks: P1_Y_TICKS, yLabels: P1_Y_TICKS.map(String), yTitle: '\u03C9 (GHz)', titlePad: 4, layers: p1Layers(), heat: heat(P1_COLS, P1_ROWS, P1_CREST, (v) => c1(v)) }),
      colorbar(b, { L: 343, R: 357, T: 7, B: 299, type: 'linear', min: 0.25, max: 4.115, ticks: CB1_TICKS, labels: CB1_LABELS }),
      panel(cc, { L: 461, R: 745, T: 7, B: 299, yw: 51, xh: 10, xLabels: false, ymin: 0, ymax: 1.48, yTicks: P2_Y_TICKS, yLabels: P2_Y_LABELS, yTitle: '\u03A9', titlePad: 3, layers: p2Layers(), heat: heat(P2_COLS, P2_ROWS, P2_LOG, (v) => c2(v)) }),
      colorbar(d, { L: 763, R: 777, T: 7, B: 299, type: 'logarithmic', min: 4.84e-4, max: 5, ticks: CB2_TICKS, labels: CB2_LABELS, minor: CB2_MINOR }),
      panel(e, { L: 41, R: 325, T: 326, B: 618, yw: 41, xh: 45, xLabels: true, ymin: 0.012, ymax: 7, yTicks: P3_Y_TICKS, yLabels: P3_Y_TICKS.map(String), yTitle: 'Delay (ns)', titlePad: 4, layers: p3Layers(), heat: heat(P3_COLS, P3_ROWS, P3_LOG, (v) => c3(v)) }),
      colorbar(f, { L: 343, R: 357, T: 326, B: 618, type: 'logarithmic', min: 1e-4, max: 1, ticks: CB3_TICKS, labels: CB3_LABELS, minor: CB3_MINOR }),
      panel(g, { L: 461, R: 745, T: 326, B: 618, yw: 51, xh: 45, xLabels: true, ymin: 0, ymax: 23.7, yTicks: P4_Y_TICKS, yLabels: P4_Y_TICKS.map(String), yTitle: 'Delay (1/\u03A9)', titlePad: 6, layers: p4Layers(), heat: heat(P4_COLS, P4_ROWS, P4_LEVEL, (v) => c4(v)) }),
      colorbar(h, { L: 763, R: 777, T: 326, B: 618, type: 'linear', min: -3.308, max: 2.307, ticks: CB4_TICKS, labels: CB4_LABELS, minor: CB4_MINOR }),
    ];
    return () => charts.forEach((ch) => ch.destroy());
  }, []);
  return (
    <div style={{ position: 'absolute', left: 0, top: 0, width: W, height: H, background: '#fff' }}>
      {[0, 1, 2, 3, 4, 5, 6, 7].map((i) => (
        <canvas
          key={i}
          ref={(el) => {
            refs.current[i] = el;
          }}
          width={W}
          height={H}
          style={{ position: 'absolute', left: 0, top: 0, display: 'block' }}
        />
      ))}
    </div>
  );
}
